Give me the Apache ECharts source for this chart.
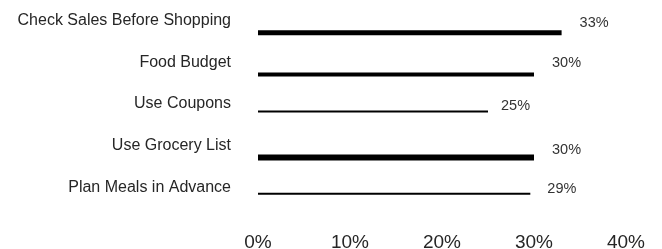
<!DOCTYPE html>
<html>
<head>
<meta charset="utf-8">
<script src="https://cdn.jsdelivr.net/npm/echarts@6/dist/echarts.min.js"></script>
<style>
html,body{margin:0;padding:0;background:#fff;}
#chart{width:662px;height:249px;}
</style>
</head>
<body>
<div id="chart"></div>
<script>
// ---- data ----
var categories = ['Check Sales Before Shopping', 'Food Budget', 'Use Coupons', 'Use Grocery List', 'Plan Meals in Advance'];
var values = [33, 30, 25, 30, 29.6];
var valueLabels = ['33%', '30%', '25%', '30%', '29%'];
var xTicks = [0, 10, 20, 30, 40];

// ---- styles (per bar) ----
var barThickness = [5, 4, 2, 6, 2];
var barOffset = [12, 12, 7.5, 12, 6.5];
var labelDx = [18, 18, 13, 18, 17];
var labelDy = [2, 1, 2, 4, 1.5];

var FONT = '"Liberation Sans", Arial, sans-serif';

var chart = echarts.init(document.getElementById('chart'), null, {renderer: 'canvas'});

var data = categories.map(function (c, i) { return [values[i], i]; });

chart.setOption({
  animation: false,
  backgroundColor: '#ffffff',
  grid: {left: 258, right: 36, top: 0, height: 208, containLabel: false, outerBoundsMode: 'none'},
  xAxis: {
    type: 'value',
    min: xTicks[0],
    max: xTicks[xTicks.length - 1],
    interval: xTicks[1] - xTicks[0],
    axisLine: {show: false},
    axisTick: {show: false},
    splitLine: {show: false},
    axisLabel: {
      formatter: '{value}%',
      fontSize: 19,
      fontFamily: FONT,
      color: '#262626',
      margin: 25
    }
  },
  yAxis: {
    type: 'category',
    data: categories,
    inverse: true,
    axisLine: {show: false},
    axisTick: {show: false},
    splitLine: {show: false},
    axisLabel: {
      fontSize: 16,
      fontFamily: FONT,
      color: '#262626',
      margin: 27
    }
  },
  series: [{
    type: 'custom',
    encode: {x: 0, y: 1},
    data: data,
    renderItem: function (params, api) {
      var v = api.value(0);
      var i = api.value(1);
      var s = api.coord([0, i]);
      var e = api.coord([v, i]);
      var th = barThickness[i];
      var off = barOffset[i];
      return {
        type: 'group',
        children: [
          {
            type: 'rect',
            shape: {x: s[0], y: s[1] + off - th / 2, width: e[0] - s[0], height: th},
            style: {fill: '#000000'}
          },
          {
            type: 'text',
            x: e[0] + labelDx[i],
            y: s[1] + labelDy[i],
            style: {
              text: valueLabels[i],
              fill: '#333333',
              fontSize: 14.5,
              fontFamily: FONT,
              align: 'left',
              verticalAlign: 'middle',
              textAlign: 'left',
              textVerticalAlign: 'middle'
            }
          }
        ]
      };
    }
  }]
});
</script>
</body>
</html>
